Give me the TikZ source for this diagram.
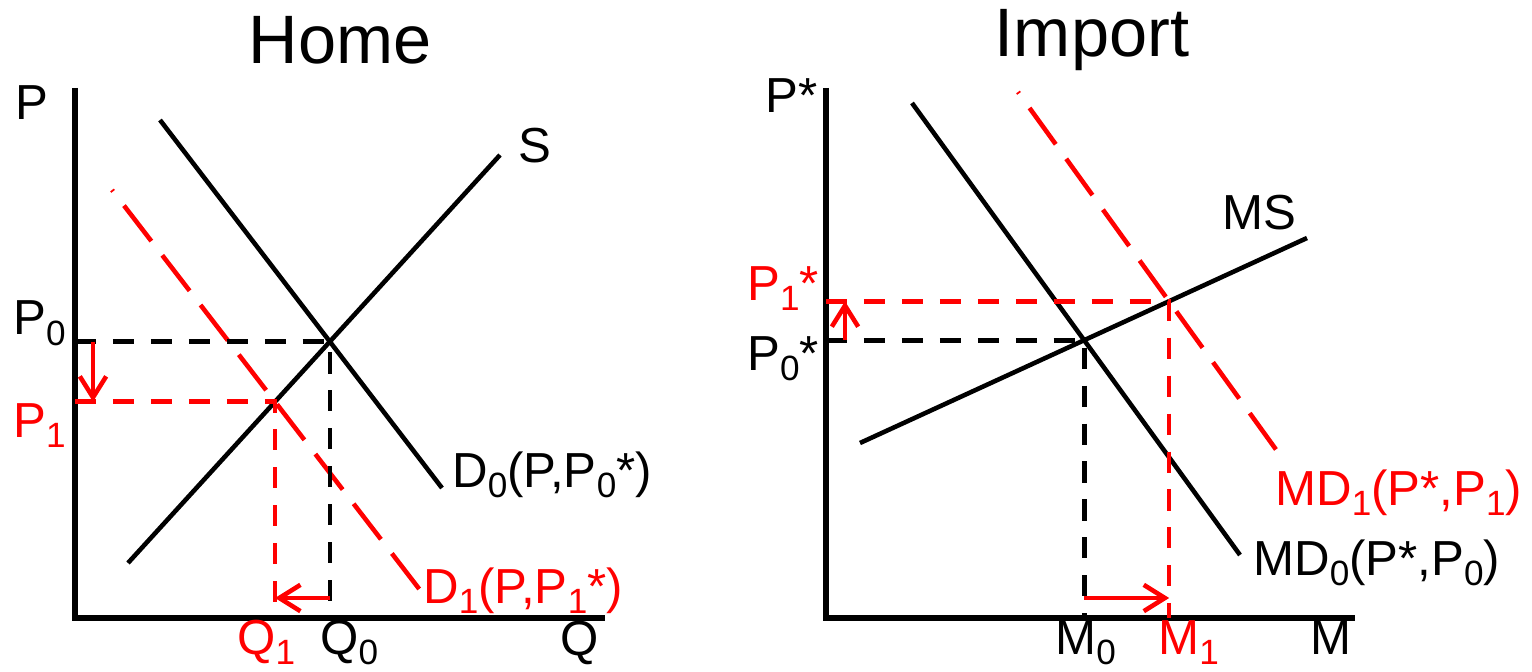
\documentclass[tikz,border=0pt]{standalone}
\usepackage{fontspec}
\setmainfont{Liberation Sans}
\usetikzlibrary{arrows.meta}
\definecolor{shiftred}{RGB}{255,0,0}
\newcommand{\lowidx}[1]{\raisebox{-5.7pt}{\fontsize{20}{20}\selectfont #1}}

\tikzset{
  axisline/.style={line width=3.1pt},
  curveline/.style={line width=2.6pt},
  shiftline/.style={line width=2.6pt, shiftred, dash pattern=on 25.5pt off 10.2pt, dash phase=24.5pt},
  guideline/.style={line width=2.6pt, dash pattern=on 12pt off 9.6pt},
  movearrow/.style={line width=2.6pt, shiftred, -{Straight Barb[length=12pt,width=15pt,line width=2.6pt]}},
  lbl/.style={font=\fontsize{28}{28}\selectfont, inner sep=0pt, anchor=base west},
  ttl/.style={font=\fontsize{39}{39}\selectfont, inner sep=0pt},
}

\begin{document}
\begin{tikzpicture}[x=0.02cm, y=-0.02cm]
    \useasboundingbox (0,0) rectangle (1532,672);

    % Home market
    \node[ttl] (homettl) at (340,40) {Home};
    \coordinate (hO) at (75,618);
    \coordinate (hPtop) at (75,88);
    \coordinate (hQend) at (605,618);
    \draw[axisline] (hPtop) -- (hO) -- (hQend);

    \coordinate (hS1) at (128,563);
    \coordinate (hS2) at (500,155);
    \coordinate (hDa) at (160,120);
    \coordinate (hDb) at (442,488);
    \coordinate (hDDa) at (112,190);
    \coordinate (hDDb) at (420,590);
    \coordinate (hE0) at (intersection of hS1--hS2 and hDa--hDb);
    \coordinate (hE1) at (intersection of hS1--hS2 and hDDa--hDDb);
    \coordinate (hPx) at (93,598);

    \draw[curveline] (hS1) -- (hS2);
    \draw[curveline] (hDa) -- (hDb);
    \draw[shiftline] (hDDa) -- (hDDb);

    % Guides
    \draw[guideline] (hO |- hE0) -- (hE0) -- (hE0 |- hO);
    \draw[guideline, shiftred] (hO |- hE1) -- (hE1) -- (hE1 |- hO);

    % Shifts
    \draw[movearrow] (hPx |- hE0) -- (hPx |- hE1);
    \draw[movearrow] (hE0 |- hPx) -- (hE1 |- hPx);

    % Labels
    \node[lbl] (hPlbl) at (15,120) {P};
    \node[lbl] (hP0lbl) at (13,335) {P\lowidx{0}};
    \node[lbl, shiftred] (hP1lbl) at (13,437) {P\lowidx{1}};
    \node[lbl] (hSlbl) at (518,163) {S};
    \node[lbl] (hD0lbl) at (452,487) {D\lowidx{0}(P,P\lowidx{0}*)};
    \node[lbl, shiftred] (hD1lbl) at (423,603) {D\lowidx{1}(P,P\lowidx{1}*)};
    \node[lbl, shiftred] (hQ1lbl) at (237,654) {Q\lowidx{1}};
    \node[lbl] (hQ0lbl) at (320,654) {Q\lowidx{0}};
    \node[lbl] (hQlbl) at (560,655) {Q};

    % Import market
    \node[ttl] (impttl) at (1092,40) {Import};
    \coordinate (mO) at (826,618);
    \coordinate (mPtop) at (826,88);
    \coordinate (mMend) at (1355,618);
    \draw[axisline] (mPtop) -- (mO) -- (mMend);

    \coordinate (mDa) at (912,103);
    \coordinate (mDb) at (1240,555);
    \coordinate (mS1) at (860,443);
    \coordinate (mS2) at (1307,238);
    \coordinate (mDDa) at (1018,92);
    \coordinate (mDDb) at (1285,462);
    \coordinate (mE0) at (intersection of mS1--mS2 and mDa--mDb);
    \coordinate (mE1) at (intersection of mS1--mS2 and mDDa--mDDb);
    \coordinate (mPx) at (845,598);

    \draw[curveline] (mDa) -- (mDb);
    \draw[curveline] (mS1) -- (mS2);
    \draw[shiftline] (mDDa) -- (mDDb);

    % Guides
    \draw[guideline] (mO |- mE0) -- (mE0) -- (mE0 |- mO);
    \draw[guideline, shiftred] (mO |- mE1) -- (mE1) -- (mE1 |- mO);

    % Shifts
    \draw[movearrow] (mPx |- mE0) -- (mPx |- mE1);
    \draw[movearrow] (mE0 |- mPx) -- (mE1 |- mPx);

    % Labels
    \node[lbl] (mPlbl) at (765,113) {P*};
    \node[lbl, shiftred] (mP1lbl) at (747,300) {P\lowidx{1}*};
    \node[lbl] (mP0lbl) at (747,370) {P\lowidx{0}*};
    \node[lbl] (mMSlbl) at (1222,230) {MS};
    \node[lbl, shiftred] (mMD1lbl) at (1275,505) {MD\lowidx{1}(P*,P\lowidx{1})};
    \node[lbl] (mMD0lbl) at (1253,575) {MD\lowidx{0}(P*,P\lowidx{0})};
    \node[lbl] (mM0lbl) at (1055,654) {M\lowidx{0}};
    \node[lbl, shiftred] (mM1lbl) at (1158,654) {M\lowidx{1}};
    \node[lbl] (mMlbl) at (1310,654) {M};
\end{tikzpicture}
\end{document}
